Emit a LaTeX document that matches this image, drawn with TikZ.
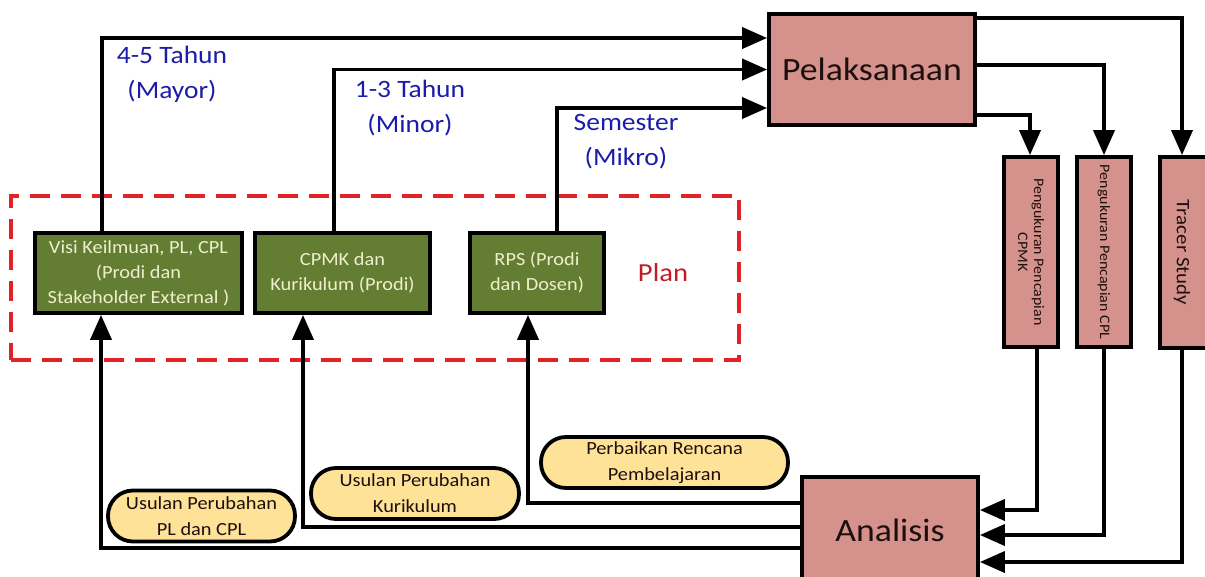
\documentclass[tikz,border=0pt]{standalone}
\usepackage{fontspec}
\setmainfont{Carlito}[FakeStretch=1.1]
\usetikzlibrary{arrows.meta}
\definecolor{pinkfill}{RGB}{213,146,141}
\definecolor{greenfill}{RGB}{99,125,50}
\definecolor{greentext}{RGB}{238,240,205}
\definecolor{pillfill}{RGB}{253,226,152}
\definecolor{bluetext}{RGB}{28,28,170}
\definecolor{planred}{RGB}{225,35,40}
\definecolor{plantext}{RGB}{190,30,35}
\definecolor{darktext}{RGB}{30,15,15}
\begin{document}
\begin{tikzpicture}[x=1pt,y=-1pt,line width=3.8pt,
  arr/.style={-{Triangle[length=25pt,width=21pt]}},
  pinkbox/.style={draw=black,fill=pinkfill,inner sep=0pt,text=darktext},
  greenbox/.style={draw=black,fill=greenfill,text=greentext,align=center,inner sep=0pt,
    minimum height=80pt,font=\fontsize{18.5}{25}\selectfont},
  pill/.style={draw=black,fill=pillfill,rounded corners=25pt,align=center,inner sep=0pt,
    minimum height=51pt,text=darktext,font=\fontsize{18.5}{26}\selectfont},
  bluelbl/.style={text=bluetext,align=center,inner sep=0pt,font=\fontsize{25}{35}\selectfont},
  planframe/.style={draw=planred,dash pattern=on 20pt off 11pt,line width=3.8pt}]
\useasboundingbox (0,0) rectangle (1205,576);

% plan frame
\node[planframe,minimum width=728pt,minimum height=164pt,inner sep=0pt] (planbox) at (375,278) {};
\node[text=plantext,font=\fontsize{26}{30}\selectfont] (plan) at (663,273) {Plan};

% main boxes
\node[pinkbox,minimum width=206pt,minimum height=111pt,font=\fontsize{32.5}{36}\selectfont] (pel) at (872,69.5) {Pelaksanaan};
\node[pinkbox,minimum width=176pt,minimum height=106pt,font=\fontsize{32.5}{36}\selectfont] (analisis) at (890,530) {Analisis};

% measurement boxes
\node[pinkbox,minimum width=54pt,minimum height=190pt] (cpmkm) at (1031,252) {};
\node[rotate=-90,align=center,text=darktext,font=\fontsize{14.5}{16}\selectfont] at (cpmkm) {Pengukuran Pencapian\\CPMK};
\node[pinkbox,minimum width=54pt,minimum height=190pt] (cplm) at (1104,252) {};
\node[rotate=-90,text=darktext,font=\fontsize{14.5}{16}\selectfont] at (cplm) {Pengukuran Pencapian CPL};
\node[pinkbox,minimum width=48pt,minimum height=191pt] (tracer) at (1184,252.5) {};
\node[rotate=-90,text=darktext,font=\fontsize{19}{22}\selectfont] at ([xshift=-2pt]tracer.center) {Tracer Study};

% plan boxes
\node[greenbox,minimum width=207pt] (visi) at (138.5,273) {Visi Keilmuan, PL, CPL\\(Prodi dan\\Stakeholder External )};
\node[greenbox,minimum width=175pt] (cpmk) at (342.5,273) {CPMK dan\\Kurikulum (Prodi)};
\node[greenbox,minimum width=134pt] (rps) at (537,273) {RPS (Prodi\\dan Dosen)};

% blue labels
\node[bluelbl] (mayor) at (172,74) {4-5 Tahun\\(Mayor)};
\node[bluelbl] (minor) at (410,108) {1-3 Tahun\\(Minor)};
\node[bluelbl] (mikro) at (626,142) {Semester\\(Mikro)};

% pills
\node[pill,minimum width=187pt] (p1) at (201.5,516) {Usulan Perubahan\\PL dan CPL};
\node[pill,minimum width=208pt] (p2) at (415,493.5) {Usulan Perubahan\\Kurikulum};
\node[pill,minimum width=247pt] (p3) at (664.5,462.5) {Perbaikan Rencana\\Pembelajaran};

% plan -> pelaksanaan
\draw[arr] ([xshift=-36.5pt]visi.north) |- ([yshift=31.5pt]pel.west);
\draw[arr] ([xshift=-8.5pt]cpmk.north) |- (pel.west);
\draw[arr] ([xshift=20pt]rps.north) |- ([yshift=-38.5pt]pel.west);

% pelaksanaan -> measurements
\draw[arr] ([yshift=51.5pt]pel.east) -| ([xshift=-2pt]tracer.north);
\draw[arr] ([yshift=4.5pt]pel.east) -| (cplm.north);
\draw[arr] ([yshift=-45.5pt]pel.east) -| ([xshift=-1pt]cpmkm.north);

% measurements -> analisis
\draw[arr] ([xshift=6pt]cpmkm.south) |- ([yshift=20pt]analisis.east);
\draw[arr] (cplm.south) |- ([yshift=-5pt]analisis.east);
\draw[arr] ([xshift=-2pt]tracer.south) |- ([yshift=-32pt]analisis.east);

% analisis -> plan boxes
\draw[arr] ([yshift=27pt]analisis.west) -| ([xshift=-9pt]rps.south);
\draw[arr] ([yshift=3pt]analisis.west) -| ([xshift=-39.5pt]cpmk.south);
\draw[arr] ([yshift=-18pt]analisis.west) -| ([xshift=-37.5pt]visi.south);
\end{tikzpicture}
\end{document}
